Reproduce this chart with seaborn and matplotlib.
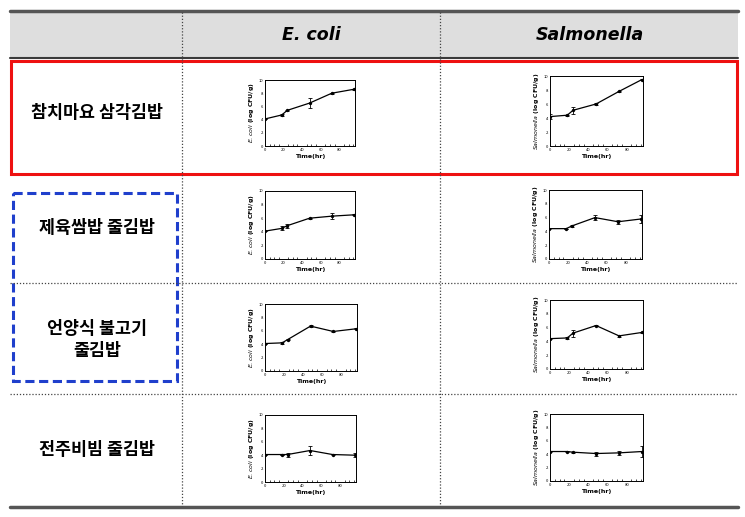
import numpy as np
import matplotlib.pyplot as plt
import matplotlib as mpl
import pandas as pd
import seaborn as sns
from matplotlib.patches import Rectangle
from matplotlib.ticker import MultipleLocator

sns.set_style('white')
plt.rcParams['font.family'] = ['Noto Sans CJK KR', 'DejaVu Sans']
plt.rcParams.update({'text.color': 'black', 'axes.labelcolor': 'black',
                     'xtick.color': 'black', 'ytick.color': 'black'})

# sampling times (hr)
time = [0, 18, 24, 48, 72, 96]

products = ['참치마요 삼각김밥', '제육쌈밥 줄김밥', '언양식 불고기\n줄김밥', '전주비빔 줄김밥']
columns = ['E. coli', 'Salmonella']

# log CFU/g
ecoli_mean = [[4.1, 4.7, 5.4, 6.5, 8.0, 8.6],
              [4.1, 4.5, 4.9, 6.0, 6.3, 6.5],
              [4.1, 4.2, 4.7, 6.7, 5.9, 6.3],
              [4.1, 4.1, 4.1, 4.7, 4.1, 4.0]]
ecoli_err = [[0.0, 0.1, 0.1, 0.8, 0.1, 0.1],
             [0.0, 0.3, 0.3, 0.1, 0.4, 0.1],
             [0.0, 0.1, 0.1, 0.1, 0.1, 0.1],
             [0.0, 0.0, 0.3, 0.6, 0.1, 0.3]]
salm_mean = [[4.2, 4.4, 5.1, 6.0, 7.8, 9.5],
             [4.4, 4.4, 4.8, 6.0, 5.4, 5.8],
             [4.4, 4.5, 5.2, 6.3, 4.8, 5.3],
             [4.4, 4.4, 4.3, 4.1, 4.2, 4.4]]
salm_err = [[0.4, 0.1, 0.5, 0.1, 0.1, 0.1],
            [0.1, 0.0, 0.2, 0.4, 0.3, 0.6],
            [0.1, 0.1, 0.5, 0.1, 0.1, 0.1],
            [0.1, 0.1, 0.1, 0.3, 0.3, 0.8]]

W, H = 745, 517
fig = plt.figure(figsize=(W / 100, H / 100), dpi=100)

# overlay in pixel coordinates for the table frame
bg = fig.add_axes([0, 0, 1, 1])
bg.set_xlim(0, W)
bg.set_ylim(H, 0)
bg.axis('off')

bg.add_patch(Rectangle((10, 12), 728, 45, facecolor='#DEDEDE', edgecolor='none'))
bg.plot([10, 738], [11, 11], color='#555555', lw=2.5)
bg.plot([10, 738], [57.5, 57.5], color='#3a3a3a', lw=1.5)
bg.plot([10, 738], [507, 507], color='#555555', lw=2.5)
for x in [182, 440]:
    bg.plot([x, x], [12, 506], color='#444444', lw=0.9, ls=(0, (1, 1.5)))
for y in [283, 394]:
    bg.plot([10, 738], [y, y], color='#444444', lw=0.9, ls=(0, (1, 1.5)))

bg.add_patch(Rectangle((11, 61), 726, 113, facecolor='none', edgecolor='#EE1111', lw=2.2))
bg.add_patch(Rectangle((12.5, 193), 164.5, 188, facecolor='none', edgecolor='#1F3FCC',
                       lw=2.2, ls=(0, (3, 1.5))))

bg.text(311, 35, 'E. coli', ha='center', va='center', fontsize=12.5,
        fontweight='bold', style='italic', family='DejaVu Sans')
bg.text(590, 35, 'Salmonella', ha='center', va='center', fontsize=12.5,
        fontweight='bold', style='italic', family='DejaVu Sans')

label_y = [113, 228, 340, 450]
for name, y in zip(products, label_y):
    bg.text(97, y, name, ha='center', va='center', fontsize=12.5,
            fontweight='bold', linespacing=1.3)

# small panels: (left, top, right, bottom) in pixels
panels = [
    [(265, 80, 355, 146), (550, 76, 643, 146)],
    [(265, 191, 355, 259), (549, 190, 642, 259)],
    [(265, 304, 357, 371), (550, 300, 643, 369)],
    [(265, 415, 356, 482), (550, 414, 643, 481)],
]

for i in range(4):
    for j in range(2):
        l, t, r, b = panels[i][j]
        ax = fig.add_axes([l / W, 1 - b / H, (r - l) / W, (b - t) / H])
        if j == 0:
            mean, err = ecoli_mean[i], ecoli_err[i]
            ylab = r'$\mathit{E.coli}$ (log CFU/g)'
        else:
            mean, err = salm_mean[i], salm_err[i]
            ylab = r'$\mathit{Salmonella}$ (log CFU/g)'
        df = pd.DataFrame({'time': time, 'value': mean, 'err': err})
        sns.lineplot(data=df, x='time', y='value', ax=ax, color='black', lw=0.9,
                     marker='o', markersize=2.4, markeredgewidth=0)
        ax.errorbar(df['time'], df['value'], yerr=df['err'], fmt='none',
                    ecolor='black', elinewidth=0.6, capsize=1.6, capthick=0.6)
        ax.set_xlim(0, 97)
        ax.set_ylim(0, 10)
        ax.set_xticks([0, 20, 40, 60, 80])
        ax.set_yticks([0, 2, 4, 6, 8, 10])
        ax.xaxis.set_minor_locator(MultipleLocator(5))
        ax.tick_params(axis='both', which='major', direction='in', length=2,
                       width=0.5, labelsize=3, pad=1.5)
        ax.tick_params(axis='x', which='minor', direction='in', length=1.2,
                       width=0.5, bottom=True)
        for s in ax.spines.values():
            s.set_linewidth(0.7)
            s.set_color('black')
        ax.set_xlabel('Time(hr)', fontsize=4.5, fontweight='bold', labelpad=1.5,
                      family='DejaVu Sans')
        ax.set_ylabel(ylab, fontsize=4.5, fontweight='bold', labelpad=1.5,
                      family='DejaVu Sans')

fig.savefig('out.png', dpi=100)
